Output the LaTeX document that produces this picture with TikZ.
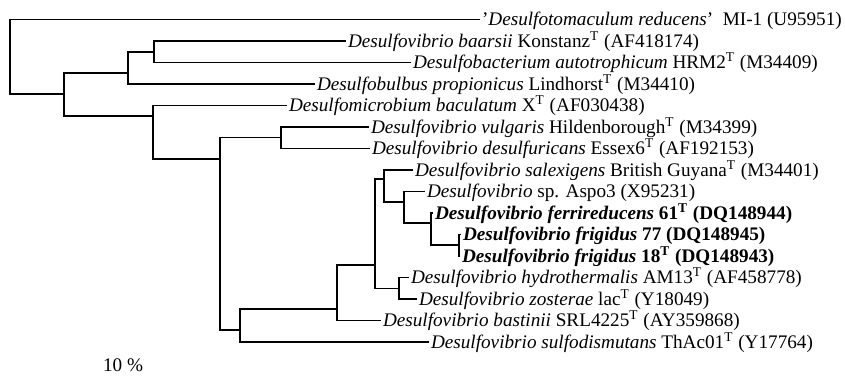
\documentclass[tikz,border=0pt]{standalone}
\usepackage{fontspec}
\setmainfont{Liberation Serif}
\begin{document}
\begin{tikzpicture}[x=0.5pt,y=-0.5pt,
  branch/.style={line width=0.7pt},
  heavy/.style={line width=0.95pt},
  taxon/.style={anchor=west, inner xsep=0.8pt, inner ysep=0pt,
    text height=6.35pt, text depth=0pt, font=\fontsize{9.6}{11}\selectfont},
  scalelabel/.style={inner sep=0pt, font=\fontsize{9.6}{11}\selectfont}]
\path[use as bounding box] (0,0) rectangle (845,376);

% leaves (row spacing 21.5)
\node[taxon] (reducens) at (480,19.5) {'\textit{Desulfotomaculum reducens}'\ \ MI-1 (U95951)};
\node[taxon] (baarsii) at (346,41) {\textit{Desulfovibrio baarsii} Konstanz\textsuperscript{T} (AF418174)};
\node[taxon] (autotroph) at (411,62.5) {\textit{Desulfobacterium autotrophicum} HRM2\textsuperscript{T} (M34409)};
\node[taxon] (bulbus) at (315,84) {\textit{Desulfobulbus propionicus} Lindhorst\textsuperscript{T} (M34410)};
\node[taxon] (microbium) at (287,105.5) {\textit{Desulfomicrobium baculatum} X\textsuperscript{T} (AF030438)};
\node[taxon] (vulgaris) at (369,127) {\textit{Desulfovibrio vulgaris} Hildenborough\textsuperscript{T} (M34399)};
\node[taxon] (desulfur) at (370,148.5) {\textit{Desulfovibrio desulfuricans} Essex6\textsuperscript{T} (AF192153)};
\node[taxon] (salex) at (413,170) {\textit{Desulfovibrio salexigens} British Guyana\textsuperscript{T} (M34401)};
\node[taxon] (aspo) at (425,191.5) {\textit{Desulfovibrio} sp. Aspo3 (X95231)};
\node[taxon] (ferri) at (433,213) {\textbf{\textit{Desulfovibrio ferrireducens} 61\textsuperscript{T} (DQ148944)}};
\node[taxon] (frigA) at (461,234.5) {\textbf{\textit{Desulfovibrio frigidus} 77 (DQ148945)}};
\node[taxon] (frigB) at (460,256) {\textbf{\textit{Desulfovibrio frigidus} 18\textsuperscript{T} (DQ148943)}};
\node[taxon] (hydro) at (409,277.5) {\textit{Desulfovibrio hydrothermalis} AM13\textsuperscript{T} (AF458778)};
\node[taxon] (zoster) at (417,299) {\textit{Desulfovibrio zosterae} lac\textsuperscript{T} (Y18049)};
\node[taxon] (bastin) at (381,320.5) {\textit{Desulfovibrio bastinii} SRL4225\textsuperscript{T} (AY359868)};
\node[taxon] (sulfod) at (429,342) {\textit{Desulfovibrio sulfodismutans} ThAc01\textsuperscript{T} (Y17764)};

% internal nodes
\coordinate (root) at (10,57);
\coordinate (n1) at (64,94);
\coordinate (n2) at (128,73);
\coordinate (n3) at (154,52);
\coordinate (n4) at (153,116);
\coordinate (nC) at (220,159);
\coordinate (nD) at (281,137.75);
\coordinate (nE) at (240,330);
\coordinate (nF) at (337,309);
\coordinate (nG) at (375,265);
\coordinate (nH) at (399,288.25);
\coordinate (nI) at (384,179);
\coordinate (nJ) at (404,202);
\coordinate (nK) at (431,223);
\coordinate (nL) at (459,245.25);

% branches
\draw[branch] (root) |- (reducens.west);
\draw[branch] (root) |- (n1);
\draw[branch] (n1) |- (n2);
\draw[branch] (n1) |- (n4);
\draw[branch] (n2) |- (n3);
\draw[branch] (n2) |- (bulbus.west);
\draw[branch] (n3) |- (baarsii.west);
\draw[branch] (n3) |- (autotroph.west);
\draw[branch] (n4) |- (microbium.west);
\draw[branch] (n4) |- (nC);
\draw[branch] (nC) |- (nD);
\draw[branch] (nC) |- (nE);
\draw[heavy] (nD) |- (vulgaris.west);
\draw[heavy] (nD) |- (desulfur.west);
\draw[branch] (nE) |- (nF);
\draw[heavy] (nE) |- (sulfod.west);
\draw[branch] (nF) |- (nG);
\draw[branch] (nF) |- (bastin.west);
\draw[branch] (nG) |- (nI);
\draw[branch] (nG) |- (nH);
\draw[branch] (nH) |- (hydro.west);
\draw[branch] (nH) |- (zoster.west);
\draw[heavy] (nI) |- (salex.west);
\draw[heavy] (nI) |- (nJ);
\draw[branch] (nJ) |- (aspo.west);
\draw[heavy] (nJ) |- (nK);
\draw[heavy] (nK) |- (ferri.west);
\draw[heavy] (nK) |- (nL);
\draw[heavy] (nL) |- (frigA.west);
\draw[heavy] (nL) |- (frigB.west);

% scale label
\node[scalelabel] (scale) at (123,365) {10 \%};
\end{tikzpicture}
\end{document}
